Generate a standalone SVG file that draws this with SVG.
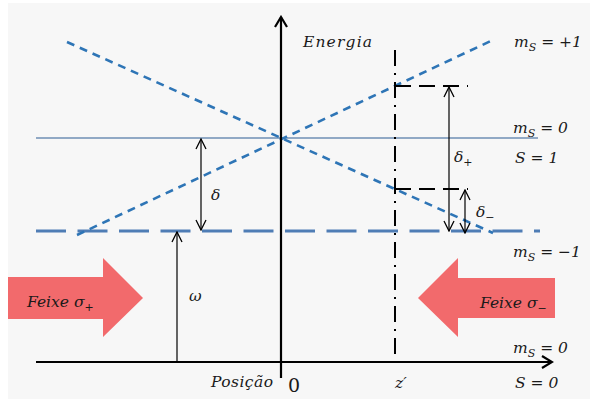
<svg xmlns="http://www.w3.org/2000/svg" width="590" height="399" viewBox="0 0 590 399">
<defs>
<style>
.t{font-family:"DejaVu Serif","Liberation Serif",serif;font-style:italic;font-size:15.5px;fill:#1a1a1a}
.u{font-family:"DejaVu Serif","Liberation Serif",serif;font-size:19px;fill:#1a1a1a}
.sub{font-size:11px}
.ax{stroke:#000;stroke-width:2.2;fill:none}
.diag{stroke:#2e75b6;stroke-width:2.6;stroke-dasharray:8 6;fill:none}
.hd{stroke:#000;stroke-width:1.2;fill:none}
.beam{fill:#f26a6c}
</style>
<marker id="ah" viewBox="0 0 12 12" refX="11" refY="6" markerWidth="12" markerHeight="12" markerUnits="userSpaceOnUse" orient="auto-start-reverse">
<path d="M1,1 L11,6 L1,11" fill="none" stroke="#000" stroke-width="1.3"/>
</marker>
<marker id="axh" viewBox="0 0 14 14" refX="12" refY="7" markerWidth="14" markerHeight="14" markerUnits="userSpaceOnUse" orient="auto">
<path d="M2,1 L12,7 L2,13" fill="none" stroke="#000" stroke-width="2.2"/>
</marker>
</defs>
<rect x="0" y="0" width="590" height="399" fill="#ffffff"/>
<rect x="8" y="3" width="582" height="396" fill="#f7f7f7"/>

<g id="beam-plus">
<polygon class="beam" points="8,277 103,277 103,258 143,298 103,337 103,319 8,319"/>
<text class="t" x="27" y="307">Feixe σ<tspan class="sub" dy="4">+</tspan></text>
</g>
<g id="beam-minus">
<polygon class="beam" points="555,278 458,278 458,258 418,298 458,337 458,318 555,318"/>
<text class="t" x="480" y="308">Feixe σ<tspan class="sub" dy="4">−</tspan></text>
</g>

<g id="levels">
<line x1="36" y1="138" x2="538" y2="138" stroke="#6f8fb5" stroke-width="1.3"/>
<line x1="36" y1="231" x2="540" y2="231" stroke="#4f7db5" stroke-width="3.2" stroke-dasharray="30 11.5"/>
<line x1="67" y1="42" x2="493" y2="233" class="diag"/>
<line x1="77" y1="235" x2="495" y2="39" class="diag"/>
<line x1="395" y1="86" x2="480" y2="86" stroke="#000" stroke-width="2.2" stroke-dasharray="16 8 16 8 16 8 1 100"/>
<line x1="395" y1="189" x2="480" y2="189" stroke="#000" stroke-width="2.2" stroke-dasharray="16 8 16 8 16 8 1 100"/>
</g>

<g id="axes">
<line x1="281" y1="378" x2="281" y2="17" class="ax" marker-end="url(#axh)"/>
<line x1="36" y1="362" x2="552" y2="362" class="ax" marker-end="url(#axh)"/>
<line x1="395" y1="50" x2="395" y2="362" stroke="#000" stroke-width="2" stroke-dasharray="16 7 2 7"/>
</g>

<g id="connectors">
<line x1="201" y1="139" x2="201" y2="230" class="hd" marker-start="url(#ah)" marker-end="url(#ah)"/>
<line x1="177" y1="362" x2="177" y2="232" class="hd" marker-end="url(#ah)"/>
<line x1="449" y1="87" x2="449" y2="231" class="hd" marker-start="url(#ah)" marker-end="url(#ah)"/>
<line x1="465" y1="190" x2="465" y2="233" class="hd" marker-start="url(#ah)" marker-end="url(#ah)"/>
</g>

<g id="labels">
<text class="t" x="303" y="47" textLength="69">Energia</text>
<text class="t" x="514" y="47">m<tspan class="sub" dy="4">S</tspan><tspan dy="-4"> = +1</tspan></text>
<text class="t" x="513" y="133">m<tspan class="sub" dy="4">S</tspan><tspan dy="-4"> = 0</tspan></text>
<text class="t" x="515" y="163">S = 1</text>
<text class="t" x="513" y="257">m<tspan class="sub" dy="4">S</tspan><tspan dy="-4"> = −1</tspan></text>
<text class="t" x="513" y="353">m<tspan class="sub" dy="4">S</tspan><tspan dy="-4"> = 0</tspan></text>
<text class="t" x="515" y="388">S = 0</text>
<text class="t" x="454" y="162">δ<tspan class="sub" dy="4">+</tspan></text>
<text class="t" x="476" y="217">δ<tspan class="sub" dy="4">−</tspan></text>
<text class="t" x="211" y="200">δ</text>
<text class="t" x="189" y="301">ω</text>
<text class="t" x="211" y="387" textLength="62">Posição</text>
<text class="u" x="288" y="392">0</text>
<text class="t" x="395" y="388">z′</text>
</g>
</svg>
